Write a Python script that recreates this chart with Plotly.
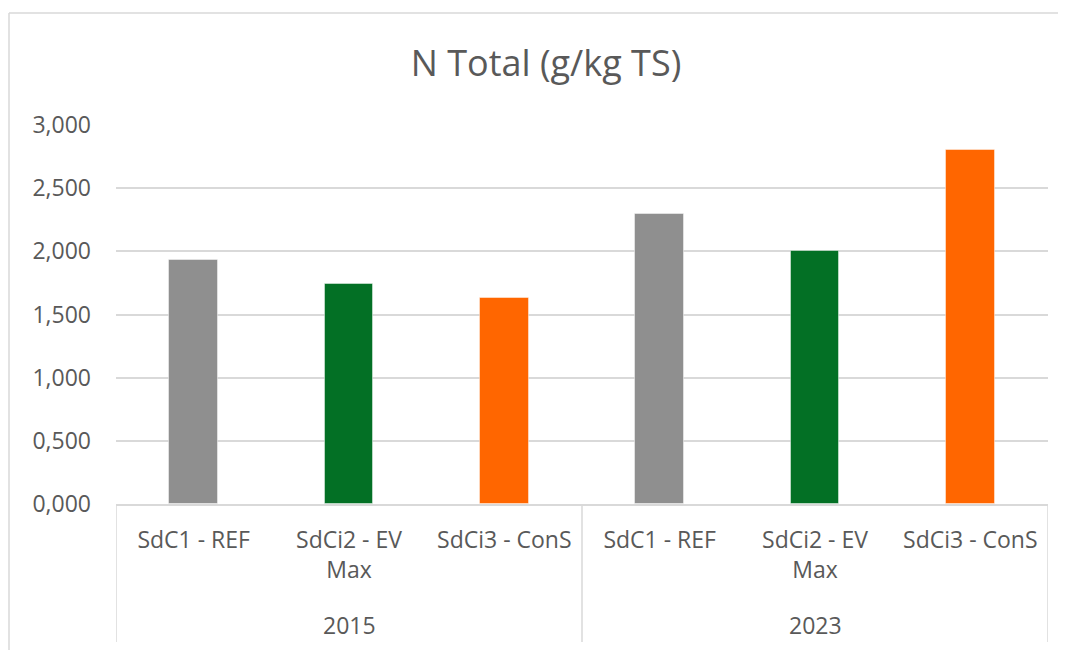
import plotly.graph_objects as go

# data
years = ["2015", "2023"]
scenarios = ["SdC1 - REF", "SdCi2 - EV<br>Max", "SdCi3 - ConS"]
values_2015 = [1.935, 1.745, 1.632]
values_2023 = [2.299, 2.003, 2.805]
bar_colors = ["#8f8f8f", "#037025", "#ff6600"]
y_ticks = [0.0, 0.5, 1.0, 1.5, 2.0, 2.5, 3.0]
y_tick_text = ["0,000", "0,500", "1,000", "1,500", "2,000", "2,500", "3,000"]

FONT = "Open Sans"
TEXT = "#595959"
GRID = "#d9d9d9"

# the html page has an 8px body margin, so the figure is a bit smaller
W, H = 1058, 642

all_values = values_2015 + values_2023
labels = scenarios * len(years)
xs = list(range(len(all_values)))
colors = bar_colors * len(years)

fig = go.Figure()
fig.add_trace(go.Bar(
    x=xs,
    y=all_values,
    width=0.313,
    marker=dict(color=colors, line=dict(color="rgba(255,255,255,0.45)", width=1)),
    showlegend=False,
))

# group dividers and year labels under the category axis
n = len(scenarios)
shapes = []
annotations = []
for g, year in enumerate(years):
    left = g * n - 0.5
    shapes.append(dict(type="line", xref="x", yref="paper", x0=left, x1=left,
                       y0=0, y1=-0.364, line=dict(color=GRID, width=1.5)))
    annotations.append(dict(text=year, xref="x", yref="paper", x=g * n + (n - 1) / 2,
                            y=-0.319, showarrow=False, yanchor="middle",
                            font=dict(family=FONT, size=23, color=TEXT)))
end = len(all_values) - 0.5
shapes.append(dict(type="line", xref="x", yref="paper", x0=end, x1=end,
                   y0=0, y1=-0.364, line=dict(color=GRID, width=1.5)))

# outer chart border (only top and left fall inside the picture)
shapes.append(dict(type="line", xref="paper", yref="paper", x0=-0.1148, x1=1.1,
                   y0=1.2955, y1=1.2955, line=dict(color=GRID, width=1.5)))
shapes.append(dict(type="line", xref="paper", yref="paper", x0=-0.1148, x1=-0.1148,
                   y0=1.2955, y1=-0.5, line=dict(color=GRID, width=1.5)))

fig.update_layout(
    width=W,
    height=H,
    margin=dict(l=108, r=18, t=117, b=146),
    paper_bgcolor="white",
    plot_bgcolor="white",
    title=dict(text="N Total (g/kg TS)", x=538 / W, xanchor="center",
               xref="container", y=1 - 55 / H, yanchor="middle",
               font=dict(family=FONT, size=36, color=TEXT)),
    font=dict(family=FONT, color=TEXT),
    shapes=shapes,
    annotations=annotations,
    bargap=0,
)
fig.update_xaxes(
    range=[-0.5, len(all_values) - 0.5],
    tickvals=xs,
    ticktext=labels,
    tickangle=0,
    showgrid=False,
    showline=True,
    linecolor=GRID,
    linewidth=1.5,
    ticks="",
    ticklabelstandoff=15,
    tickfont=dict(family=FONT, size=23, color=TEXT),
    fixedrange=True,
)
fig.update_yaxes(
    range=[0, 3.0],
    tickvals=y_ticks,
    ticktext=y_tick_text,
    showgrid=True,
    gridcolor=GRID,
    gridwidth=1.5,
    zeroline=False,
    showline=False,
    ticks="",
    ticklabelstandoff=24,
    tickfont=dict(family=FONT, size=23, color=TEXT),
    fixedrange=True,
)

fig.write_html("out.html")
